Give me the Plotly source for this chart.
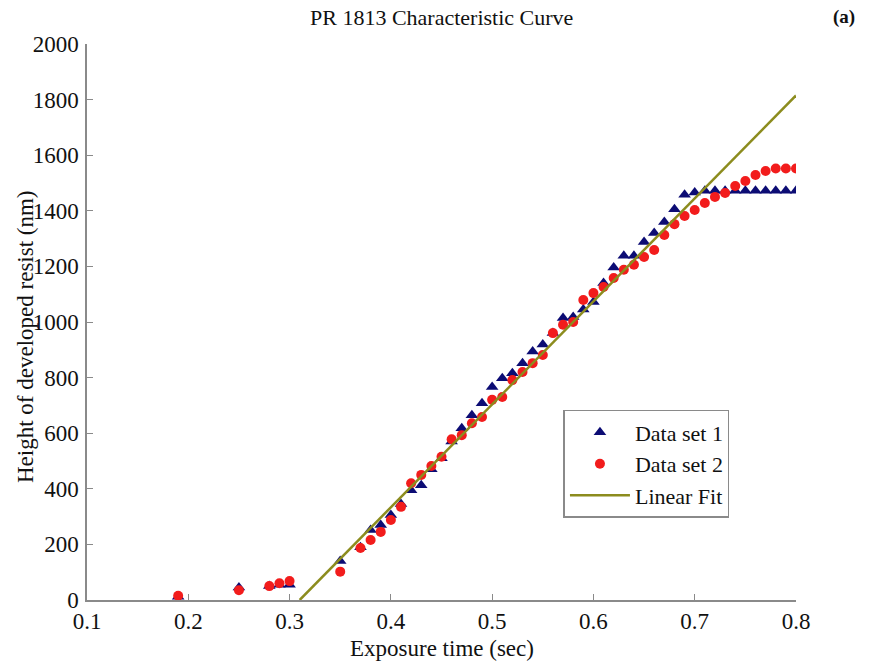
import plotly.graph_objects as go

# Data set 1 (triangles)
x1 = [0.19, 0.25, 0.28, 0.29, 0.30, 0.35, 0.37, 0.38, 0.39, 0.40, 0.41, 0.42, 0.43, 0.44,
      0.45, 0.46, 0.47, 0.48, 0.49, 0.50, 0.51, 0.52, 0.53, 0.54, 0.55, 0.56, 0.57, 0.58,
      0.59, 0.60, 0.61, 0.62, 0.63, 0.64, 0.65, 0.66, 0.67, 0.68, 0.69, 0.70, 0.71, 0.72,
      0.73, 0.74, 0.75, 0.76, 0.77, 0.78, 0.79, 0.80]
y1 = [12, 45, 50, 55, 55, 140, 190, 252, 270, 306, 345, 395, 413, 470,
      510, 570, 618, 665, 708, 766, 798, 816, 852, 894, 919, 960, 1014, 1018,
      1045, 1072, 1140, 1196, 1238, 1238, 1288, 1320, 1360, 1406, 1458, 1466, 1472, 1472,
      1472, 1472, 1472, 1472, 1472, 1472, 1472, 1472]

# Data set 2 (circles)
x2 = [0.19, 0.25, 0.28, 0.29, 0.30, 0.35, 0.37, 0.38, 0.39, 0.40, 0.41, 0.42, 0.43, 0.44,
      0.45, 0.46, 0.47, 0.48, 0.49, 0.50, 0.51, 0.52, 0.53, 0.54, 0.55, 0.56, 0.57, 0.58,
      0.59, 0.60, 0.61, 0.62, 0.63, 0.64, 0.65, 0.66, 0.67, 0.68, 0.69, 0.70, 0.71, 0.72,
      0.73, 0.74, 0.75, 0.76, 0.77, 0.78, 0.79, 0.80]
y2 = [15, 35, 50, 60, 68, 102, 187, 216, 245, 288, 335, 420, 450, 482,
      515, 578, 593, 636, 658, 720, 730, 791, 820, 852, 881, 960, 990, 1000,
      1079, 1104, 1126, 1158, 1188, 1206, 1234, 1259, 1313, 1352, 1381, 1403, 1428, 1450,
      1464, 1489, 1507, 1529, 1543, 1552, 1552, 1552]

# Linear fit endpoints
fit_x = [0.31, 0.80]
fit_y = [0, 1815]

x_ticks = [0.1, 0.2, 0.3, 0.4, 0.5, 0.6, 0.7, 0.8]
y_ticks = [0, 200, 400, 600, 800, 1000, 1200, 1400, 1600, 1800, 2000]

FONT = "Liberation Serif, Times New Roman, serif"

fig = go.Figure()
fig.add_trace(go.Scatter(x=x1, y=y1, mode="markers", name="Data set 1",
                         marker=dict(symbol="triangle-up", size=11, color="#0c0c74")))
fig.add_trace(go.Scatter(x=x2, y=y2, mode="markers", name="Data set 2",
                         marker=dict(symbol="circle", size=10, color="#f21c1c")))
fig.add_trace(go.Scatter(x=fit_x, y=fit_y, mode="lines", name="Linear Fit",
                         line=dict(color="#8c8c1e", width=2.5)))

axis_common = dict(showgrid=False, zeroline=False, showline=True, linecolor="#8a8a8a",
                   linewidth=1.5, ticks="inside", ticklen=6, tickcolor="#8a8a8a",
                   tickfont=dict(family=FONT, size=23, color="#111"))

fig.update_layout(
    width=870, height=661,
    margin=dict(l=87, r=74, t=44, b=61),
    paper_bgcolor="white", plot_bgcolor="white",
    font=dict(family=FONT, color="#111"),
    showlegend=True,
    legend=dict(x=0.672, y=0.342, xanchor="left", yanchor="top",
                bordercolor="#8a8a8a", borderwidth=1.5, bgcolor="white",
                font=dict(family=FONT, size=22, color="#111"),
                itemwidth=60, tracegroupgap=0),
    xaxis=dict(range=[0.1, 0.8], tickvals=x_ticks, ticktext=[str(v) for v in x_ticks],
               ticklabelstandoff=0, **axis_common),
    yaxis=dict(range=[0, 2000], tickvals=y_ticks, ticklabelstandoff=2,
               **axis_common),
)

fig.add_annotation(text="PR 1813 Characteristic Curve", xref="paper", yref="paper",
                   x=0.5, y=1.0, yshift=27, xanchor="center", yanchor="middle",
                   showarrow=False, font=dict(family=FONT, size=22, color="#111"))
fig.add_annotation(text="<b>(a)</b>", xref="paper", yref="paper",
                   x=1.068, y=1.0, yshift=27, xanchor="center", yanchor="middle",
                   showarrow=False, font=dict(family=FONT, size=19, color="#111"))
fig.add_annotation(text="Exposure time (sec)", xref="paper", yref="paper",
                   x=0.5, y=0.0, yshift=-48, xanchor="center", yanchor="middle",
                   showarrow=False, font=dict(family=FONT, size=23, color="#111"))
fig.add_annotation(text="Height of developed resist (nm)", xref="paper", yref="paper",
                   x=0.0, y=0.5, xshift=-62, yshift=-15, xanchor="center", yanchor="middle",
                   textangle=-90, showarrow=False,
                   font=dict(family=FONT, size=23, color="#111"))

fig.write_html("out.html")
